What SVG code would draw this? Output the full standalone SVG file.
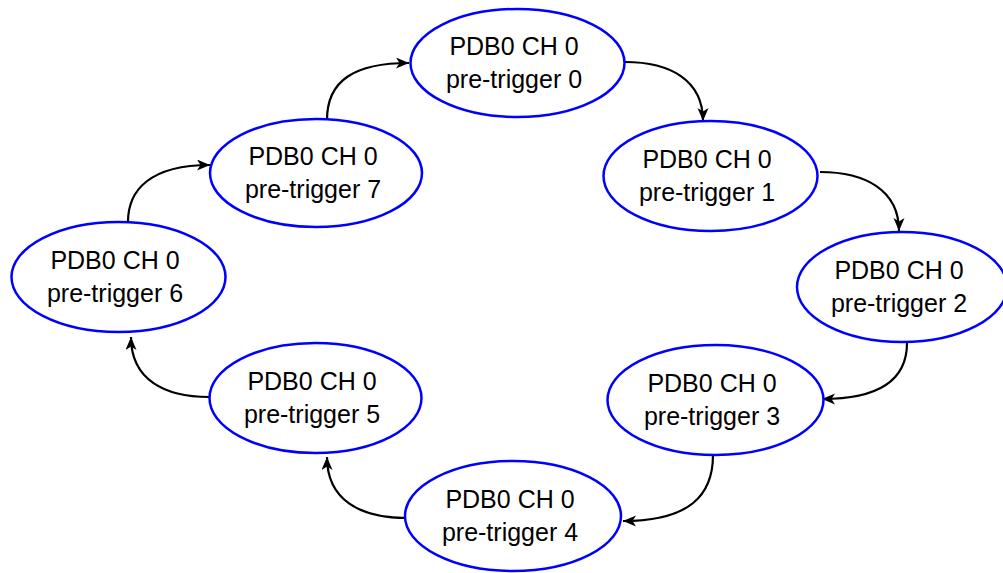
<svg xmlns="http://www.w3.org/2000/svg" width="1003" height="573" viewBox="0 0 1003 573">
<defs>
<style>
.node ellipse{fill:#fff;stroke:#0000ff;stroke-width:2.5}
.node text{font-family:"Liberation Sans",Arial,Helvetica,sans-serif;font-size:25px;fill:#000;text-anchor:middle}
.edge{fill:none;stroke:#000;stroke-width:2.2;marker-end:url(#arr)}
</style>
<marker id="arr" markerUnits="userSpaceOnUse" markerWidth="16" markerHeight="14" refX="13" refY="5.5" orient="auto">
<path d="M0,0 L13,5.5 L0,11 L3.5,5.5 Z" fill="#000"/>
</marker>
</defs>
<g id="connectors">
<path class="edge" d="M327,120 C327,80 355,63 409,63"/>
<path class="edge" d="M625,62 C670,62 703,80 703,121"/>
<path class="edge" d="M820,172 C865,172 899,190 899,231"/>
<path class="edge" d="M907,343 C907,380 880,399 822,399"/>
<path class="edge" d="M713,455 C713,495 690,521 623,521"/>
<path class="edge" d="M407,518 C360,518 327,500 327,457"/>
<path class="edge" d="M209,397 C165,397 131,380 131,337"/>
<path class="edge" d="M128,222 C128,190 150,165 210,165"/>
</g>
<g id="n0" class="node"><ellipse cx="517.5" cy="63" rx="107" ry="54"/><text x="514" y="55">PDB0 CH 0</text><text x="514" y="88">pre-trigger 0</text></g>
<g id="n1" class="node"><ellipse cx="710.5" cy="176" rx="107" ry="55"/><text x="707" y="168">PDB0 CH 0</text><text x="707" y="201">pre-trigger 1</text></g>
<g id="n2" class="node"><ellipse cx="902" cy="287" rx="105" ry="55"/><text x="899" y="279">PDB0 CH 0</text><text x="899" y="312">pre-trigger 2</text></g>
<g id="n3" class="node"><ellipse cx="715.5" cy="400" rx="108" ry="55"/><text x="712" y="392">PDB0 CH 0</text><text x="712" y="425">pre-trigger 3</text></g>
<g id="n4" class="node"><ellipse cx="513" cy="516" rx="108" ry="55"/><text x="510" y="508">PDB0 CH 0</text><text x="510" y="541">pre-trigger 4</text></g>
<g id="n5" class="node"><ellipse cx="315.5" cy="398" rx="106" ry="55"/><text x="312" y="390">PDB0 CH 0</text><text x="312" y="423">pre-trigger 5</text></g>
<g id="n6" class="node"><ellipse cx="118.5" cy="277" rx="107" ry="55"/><text x="115" y="269">PDB0 CH 0</text><text x="115" y="302">pre-trigger 6</text></g>
<g id="n7" class="node"><ellipse cx="316" cy="173" rx="106" ry="54"/><text x="313" y="165">PDB0 CH 0</text><text x="313" y="198">pre-trigger 7</text></g>
</svg>
